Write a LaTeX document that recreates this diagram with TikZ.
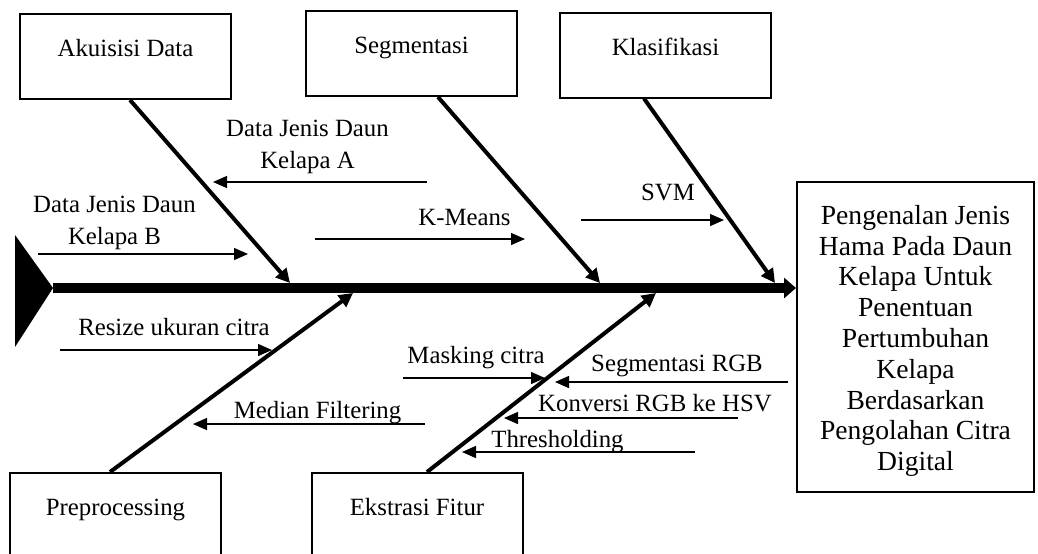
\documentclass[tikz,border=0pt]{standalone}
\usepackage{fontspec}
\setmainfont{Liberation Serif}
\usetikzlibrary{arrows.meta}
\usetikzlibrary{calc}
\tikzset{
  font={\fontsize{12.4pt}{16pt}\selectfont}}

\begin{document}
\begin{tikzpicture}[x=0.5pt, y=-0.5pt]

    \tikzset{box/.style = {draw=black, line width=1pt, minimum width=105.5pt, minimum height=42.5pt, text height=10pt, text depth=10pt, inner sep=0pt}}
    \tikzset{bone/.style = {line width=2pt, -{Triangle[length=7pt,width=7pt]}}}
    \tikzset{cause/.style = {line width=0.7pt, -{Triangle[length=7pt,width=6pt]}}}
    \tikzset{lbl/.style = {inner sep=0pt, text height=8.5pt, text depth=2.5pt}}

    \useasboundingbox (0,0) rectangle (1038,553);
    \clip (0,0) rectangle (1038,553);

    % boxes
    \node[box] (akuisisi) at (125.5,56.5) {Akuisisi Data};
    \node[box] (segmentasi) at (411.5,53.5) {Segmentasi};
    \node[box] (klasifikasi) at (665.5,55) {Klasifikasi};
    \node[box] (preprocessing) at (115.5,515.5) {Preprocessing};
    \node[box] (ekstrasi) at (417,515.5) {Ekstrasi Fitur};
    \node[draw=black, line width=1pt, minimum width=118.5pt, minimum height=155pt, align=center, font={\fontsize{13.8pt}{15.4pt}\selectfont}] (hasil) at (915.5,337) {\rule{0pt}{13.5pt}Pengenalan Jenis\\Hama Pada Daun\\Kelapa Untuk\\Penentuan\\Pertumbuhan\\Kelapa\\Berdasarkan\\Pengolahan Citra\\Digital};

    % spine
    \coordinate (tail) at (53,288);
    \fill (15,235) -- (tail) -- (15,347) -- cycle;
    \draw[line width=5pt, -{Triangle[length=6pt,width=10pt]}] (tail) -- (tail -| hasil.west);

    \coordinate (j1) at (290,283);
    \coordinate (j2) at (600,283);
    \coordinate (j3) at (775,283);
    \coordinate (j4) at (353,293);
    \coordinate (j5) at (656,293);

    % bones
    \draw[bone] ($(akuisisi.south)+(4.5,0)$) -- (j1);
    \draw[bone] ($(segmentasi.south)+(26.5,0)$) -- (j2);
    \draw[bone] ($(klasifikasi.south)+(-21.5,0)$) -- (j3);
    \draw[bone] ($(preprocessing.north)+(-5.5,0)$) -- (j4);
    \draw[bone] ($(ekstrasi.north)+(10,0)$) -- (j5);

    % labels
    \node[align=center, inner sep=0pt] (dataA) at (307.5,147) {Data Jenis Daun\\Kelapa A};
    \node[align=center, inner sep=0pt] (dataB) at (114.5,223) {Data Jenis Daun\\Kelapa B};
    \node[lbl] (kmeans) at (464.5,219.5) {K-Means};
    \node[lbl] (svm) at (668,194.5) {SVM};
    \node[lbl] (resize) at (174,329.5) {Resize ukuran citra};
    \node[lbl] (median) at (317.5,412.5) {Median Filtering};
    \node[lbl] (masking) at (476,357) {Masking citra};
    \node[lbl] (segrgb) at (677,365) {Segmentasi RGB};
    \node[lbl] (konversi) at (655,405.5) {Konversi RGB ke HSV};
    \node[lbl] (thresh) at (557.5,441) {Thresholding};

    % small arrows
    \coordinate (dA1) at (427,182); \coordinate (dA2) at (213,182);
    \coordinate (dB1) at (38,254); \coordinate (dB2) at (248,254);
    \coordinate (km1) at (315,239); \coordinate (km2) at (525,239);
    \coordinate (sv1) at (581,220); \coordinate (sv2) at (724,220);
    \coordinate (rs1) at (60,350); \coordinate (rs2) at (272,350);
    \coordinate (md1) at (425,424); \coordinate (md2) at (193,424);
    \coordinate (mk1) at (403,378); \coordinate (mk2) at (545,378);
    \coordinate (sg1) at (788,382); \coordinate (sg2) at (555,382);
    \coordinate (kv1) at (738,418); \coordinate (kv2) at (504,418);
    \coordinate (th1) at (695,452); \coordinate (th2) at (462,452);

    \draw[cause] (dA1) -- (dA2);
    \draw[cause] (dB1) -- (dB2);
    \draw[cause] (km1) -- (km2);
    \draw[cause] (sv1) -- (sv2);
    \draw[cause] (rs1) -- (rs2);
    \draw[cause] (md1) -- (md2);
    \draw[cause] (mk1) -- (mk2);
    \draw[cause] (sg1) -- (sg2);
    \draw[cause] (kv1) -- (kv2);
    \draw[cause] (th1) -- (th2);

\end{tikzpicture}
\end{document}
